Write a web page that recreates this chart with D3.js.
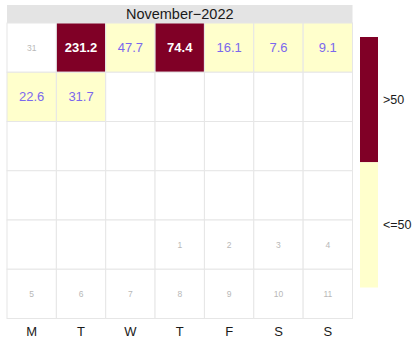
<!DOCTYPE html>
<html>
<head>
<meta charset="utf-8">
<script src="https://cdn.jsdelivr.net/npm/d3@7"></script>
<style>
  html, body { margin: 0; padding: 0; background: #fff; }
  svg { display: block; font-family: "Liberation Sans", Arial, sans-serif; }
</style>
</head>
<body>
<svg id="chart" width="417" height="343"></svg>
<script>
// Daily values for November 2022 (days 1..8 recorded)
const monthTitle = "November\u22122022";
const year = 2022;
const monthIndex = 10; // November (0-based)
const dayNumbers = [1, 2, 3, 4, 5, 6, 7, 8];
const dayValues = [231.2, 47.7, 74.4, 16.1, 7.6, 9.1, 22.6, 31.7];
const weekdayLabels = ["M", "T", "W", "T", "F", "S", "S"];
const legendLabels = [">50", "<=50"];
const threshold = 50;
const colors = ["#800026", "#FFFFCC"];

const svg = d3.select("#chart");

const gridLeft = 7, gridRight = 352.5, gridTop = 23, gridBottom = 318.5;
const x = d3.scaleBand().domain(d3.range(7)).range([gridLeft, gridRight]).padding(0);
const y = d3.scaleBand().domain(d3.range(6)).range([gridTop, gridBottom]).padding(0);

const color = d3.scaleThreshold().domain([threshold]).range([colors[1], colors[0]]);

// Build the 6x7 calendar grid starting on the Monday of the first week
const first = new Date(year, monthIndex, 1);
const offset = (first.getDay() + 6) % 7; // Monday = 0
const start = new Date(year, monthIndex, 1 - offset);
const valueByDay = new Map(dayNumbers.map((d, i) => [d, dayValues[i]]));

const cells = d3.range(42).map(i => {
  const date = new Date(start.getFullYear(), start.getMonth(), start.getDate() + i);
  const inMonth = date.getMonth() === monthIndex;
  return {
    col: i % 7,
    row: Math.floor(i / 7),
    day: date.getDate(),
    inMonth,
    value: inMonth && valueByDay.has(date.getDate()) ? valueByDay.get(date.getDate()) : null
  };
});

// Month header strip
svg.append("rect")
  .attr("x", gridLeft).attr("y", 5)
  .attr("width", gridRight - gridLeft).attr("height", gridTop - 5)
  .attr("fill", "#e4e4e4");
svg.append("text")
  .attr("x", (gridLeft + gridRight) / 2).attr("y", 19)
  .attr("text-anchor", "middle")
  .attr("font-size", 14.5)
  .attr("fill", "#1a1a1a")
  .text(monthTitle);

// Cells
const g = svg.append("g");
g.selectAll("rect.cell")
  .data(cells)
  .join("rect")
  .attr("class", "cell")
  .attr("x", d => x(d.col))
  .attr("y", d => y(d.row))
  .attr("width", x.bandwidth())
  .attr("height", y.bandwidth())
  .attr("fill", d => d.value == null ? "#ffffff" : color(d.value))
  .attr("stroke", "#e6e6e6")
  .attr("stroke-width", 1);

// Value labels
g.selectAll("text.val")
  .data(cells.filter(d => d.value != null))
  .join("text")
  .attr("class", "val")
  .attr("x", d => x(d.col) + x.bandwidth() / 2)
  .attr("y", d => y(d.row) + y.bandwidth() / 2 + 4.5)
  .attr("text-anchor", "middle")
  .attr("font-size", 13)
  .attr("font-weight", d => d.value > threshold ? "bold" : "normal")
  .attr("fill", d => d.value > threshold ? "#ffffff" : "#7B68EE")
  .text(d => d.value.toFixed(1));

// Day numbers of the neighbouring months
g.selectAll("text.day")
  .data(cells.filter(d => !d.inMonth))
  .join("text")
  .attr("class", "day")
  .attr("x", d => x(d.col) + x.bandwidth() / 2)
  .attr("y", d => y(d.row) + y.bandwidth() / 2 + 3)
  .attr("text-anchor", "middle")
  .attr("font-size", 8.5)
  .attr("fill", "#b8b8b8")
  .text(d => d.day);

// Weekday axis
const axis = d3.axisBottom(x).tickSize(0).tickPadding(8).tickFormat(i => weekdayLabels[i]);
const ax = svg.append("g").attr("transform", `translate(0,${gridBottom})`).call(axis);
ax.select(".domain").remove();
ax.selectAll("text").attr("font-size", 13).attr("fill", "#1a1a1a")
  .attr("font-family", "Liberation Sans, Arial, sans-serif");

// Legend
const legY = d3.scaleBand().domain(legendLabels).range([37, 287.5]).padding(0);
const leg = svg.append("g");
leg.selectAll("rect")
  .data(legendLabels)
  .join("rect")
  .attr("x", 360).attr("width", 18)
  .attr("y", d => legY(d)).attr("height", legY.bandwidth())
  .attr("fill", (d, i) => colors[i]);
leg.selectAll("text")
  .data(legendLabels)
  .join("text")
  .attr("x", 383)
  .attr("y", d => legY(d) + legY.bandwidth() / 2 + 4.5)
  .attr("font-size", 12.5)
  .attr("fill", "#1a1a1a")
  .text(d => d);
</script>
</body>
</html>
